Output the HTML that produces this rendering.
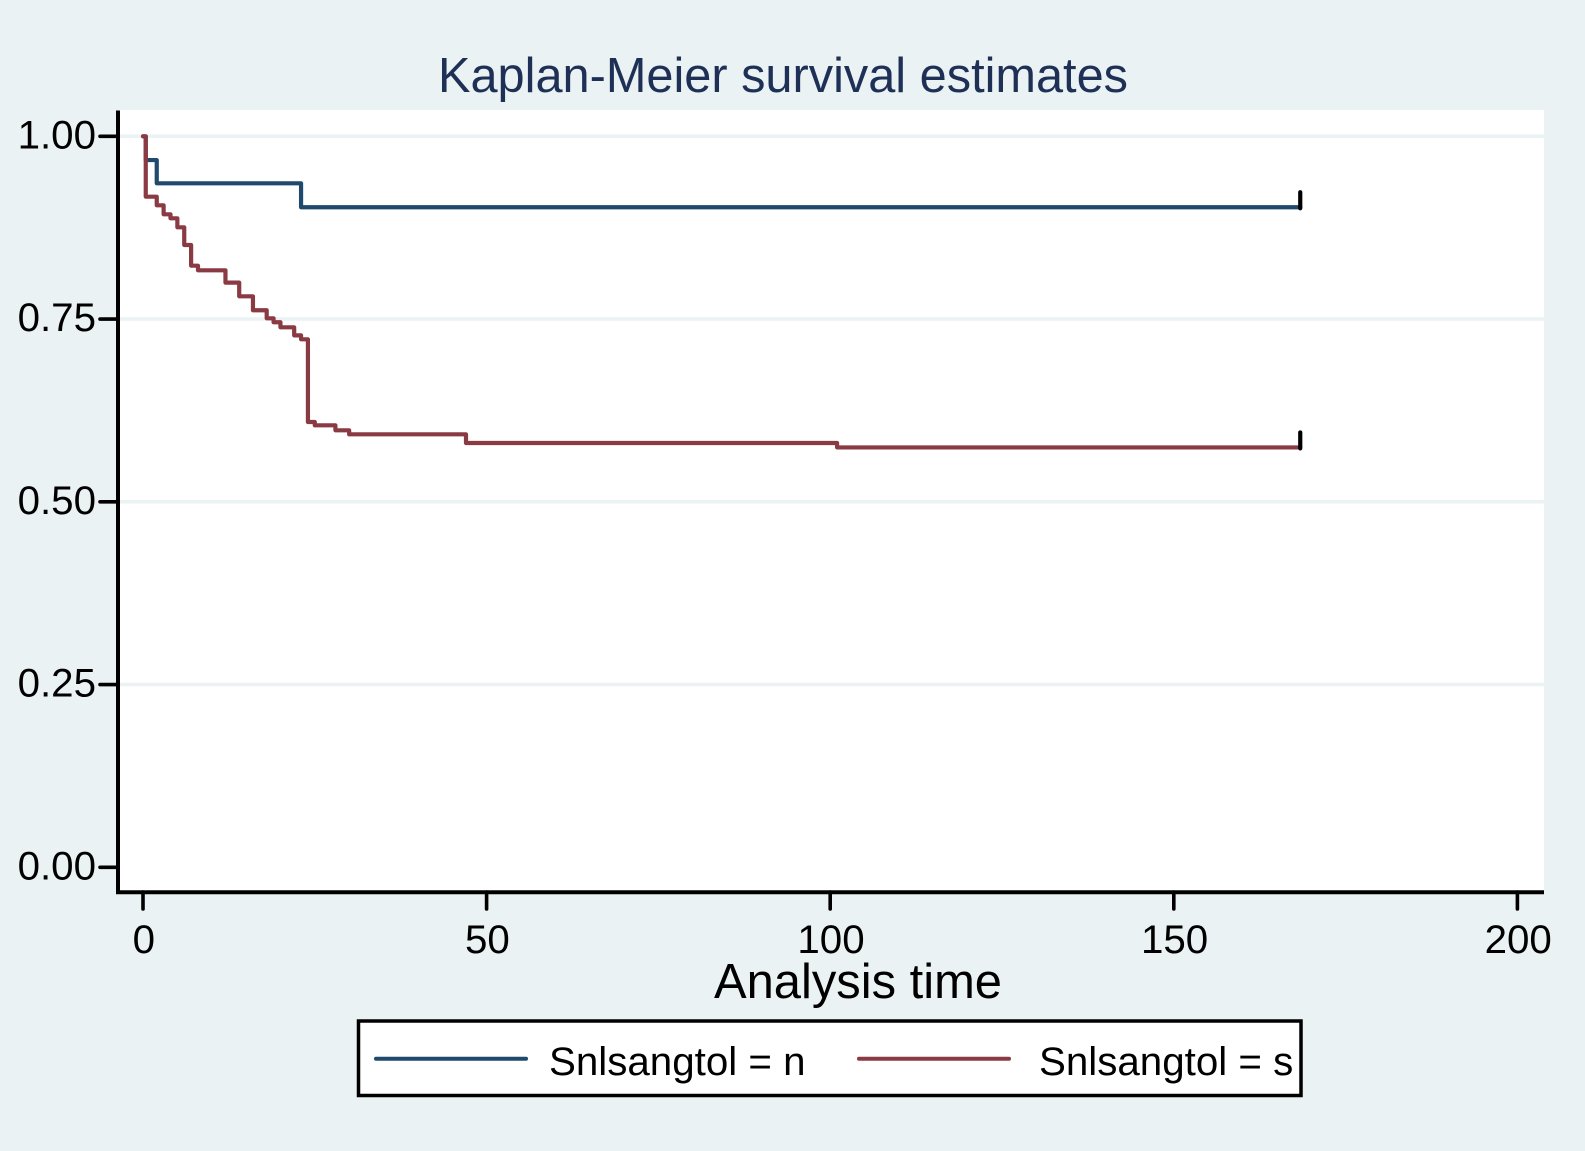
<!DOCTYPE html>
<html lang="en">
<head>
<meta charset="utf-8">
<title>Kaplan-Meier survival estimates</title>
<style>
  html, body { margin: 0; padding: 0; background: #eaf2f3; }
  #chart { display: block; width: 1585px; height: 1151px; font-family: "Liberation Sans", sans-serif; }
</style>
</head>
<body>
<svg id="chart" xmlns="http://www.w3.org/2000/svg" width="1585" height="1151" viewBox="0 0 1585 1151">
  <rect x="0" y="0" width="1585" height="1151" fill="#eaf2f3"/>
  <rect x="118" y="110" width="1426" height="782" fill="#ffffff"/>
  <g id="grid"></g>
  <g id="series"></g>
  <g id="axes"></g>
  <text x="783" y="92" font-size="48.7" fill="#1f3057" text-anchor="middle">Kaplan-Meier survival estimates</text>
  <text x="858" y="998" font-size="48.9" fill="#000000" text-anchor="middle">Analysis time</text>
  <g>
    <rect x="358.5" y="1021" width="942.5" height="74.5" fill="#ffffff" stroke="#000000" stroke-width="3.5"/>
    <line x1="376" y1="1058.7" x2="526" y2="1058.7" stroke="#1f4a6e" stroke-width="4" stroke-linecap="round"/>
    <text x="549" y="1075" font-size="40.3" fill="#000000">Snlsangtol = n</text>
    <line x1="859" y1="1058.7" x2="1009" y2="1058.7" stroke="#8a3a42" stroke-width="4" stroke-linecap="round"/>
    <text x="1039" y="1075" font-size="40.3" fill="#000000">Snlsangtol = s</text>
  </g>
</svg>
<script>
const xTicks = [0, 50, 100, 150, 200];
const xTickLabels = ['0', '50', '100', '150', '200'];
const yTicks = [0, 0.25, 0.5, 0.75, 1];
const yTickLabels = ['0.00', '0.25', '0.50', '0.75', '1.00'];
const timesN = [0, 0.4, 2, 23];
const survivalN = [1, 0.9675, 0.9357, 0.9029];
const timesS = [0, 0.4, 2, 3, 4, 5, 6, 7, 8, 12, 14, 16, 18, 19, 20, 22, 23, 24, 25, 28, 30, 47, 101];
const survivalS = [1, 0.9174, 0.9056, 0.8933, 0.8878, 0.8755, 0.8513, 0.823, 0.8167, 0.7998, 0.7811, 0.762, 0.751, 0.7456, 0.7387, 0.7277, 0.7223, 0.6092, 0.6046, 0.5978, 0.5923, 0.5804, 0.5744];
const endTime = 168.4;

const SVG_NS = 'http://www.w3.org/2000/svg';
const xScale = function (t) { return 143 + t * 6.872; };
const yScale = function (s) { return 867.3 - s * 731; };

function make(tag, parent, attrs) {
  const el = document.createElementNS(SVG_NS, tag);
  Object.keys(attrs).forEach(function (k) { el.setAttribute(k, attrs[k]); });
  parent.appendChild(el);
  return el;
}

const grid = document.getElementById('grid');
const axes = document.getElementById('axes');
const series = document.getElementById('series');

yTicks.forEach(function (v, i) {
  if (v > 0) {
    const g = make('line', grid, { x1: 118, x2: 1544, y1: yScale(v), y2: yScale(v), stroke: '#eaf2f3', 'stroke-width': 3.5 });
    
    
  }
  const t = make('line', axes, { x1: 100, x2: 118, y1: yScale(v), y2: yScale(v), stroke: '#000000', 'stroke-width': 3.6, 'stroke-linecap': 'round' });
  
  
  const l = make('text', axes, { x: 96, y: yScale(v) + 12, 'font-size': 40.3, fill: '#000000', 'text-anchor': 'end' });
  l.textContent = yTickLabels[i];
  
  
});

xTicks.forEach(function (v, i) {
  const t = make('line', axes, { x1: xScale(v), x2: xScale(v), y1: 892, y2: 909, stroke: '#000000', 'stroke-width': 3.6, 'stroke-linecap': 'round' });
  
  
  const l = make('text', axes, { x: xScale(v) + 0.8, y: 953, 'font-size': 40.3, fill: '#000000', 'text-anchor': 'middle' });
  l.textContent = xTickLabels[i];
  
  
});

const yAxis = make('line', axes, { x1: 118, x2: 118, y1: 110.5, y2: 894, stroke: '#000000', 'stroke-width': 4 });


const xAxis = make('line', axes, { x1: 116, x2: 1544, y1: 892.3, y2: 892.3, stroke: '#000000', 'stroke-width': 4 });



function stepPath(times, surv, end) {
  let d = 'M' + xScale(times[0]) + ' ' + yScale(surv[0]);
  for (let i = 1; i < times.length; i++) {
    d += ' L' + xScale(times[i]) + ' ' + yScale(surv[i - 1]);
    d += ' L' + xScale(times[i]) + ' ' + yScale(surv[i]);
  }
  d += ' L' + xScale(end) + ' ' + yScale(surv[surv.length - 1]);
  return d;
}

const curveN = make('path', series, { d: stepPath(timesN, survivalN, endTime), fill: 'none', stroke: '#1f4a6e', 'stroke-width': 4.2, 'stroke-linejoin': 'round', 'stroke-linecap': 'round' });


const curveS = make('path', series, { d: stepPath(timesS, survivalS, endTime), fill: 'none', stroke: '#8a3a42', 'stroke-width': 4.2, 'stroke-linejoin': 'round', 'stroke-linecap': 'round' });



const censorN = make('line', series, { x1: xScale(endTime), x2: xScale(endTime), y1: yScale(survivalN[survivalN.length - 1]) - 15, y2: yScale(survivalN[survivalN.length - 1]) + 1, stroke: '#000000', 'stroke-width': 4.2, 'stroke-linecap': 'round' });


const censorS = make('line', series, { x1: xScale(endTime), x2: xScale(endTime), y1: yScale(survivalS[survivalS.length - 1]) - 15, y2: yScale(survivalS[survivalS.length - 1]) + 1, stroke: '#000000', 'stroke-width': 4.2, 'stroke-linecap': 'round' });


</script>
</body>
</html>
